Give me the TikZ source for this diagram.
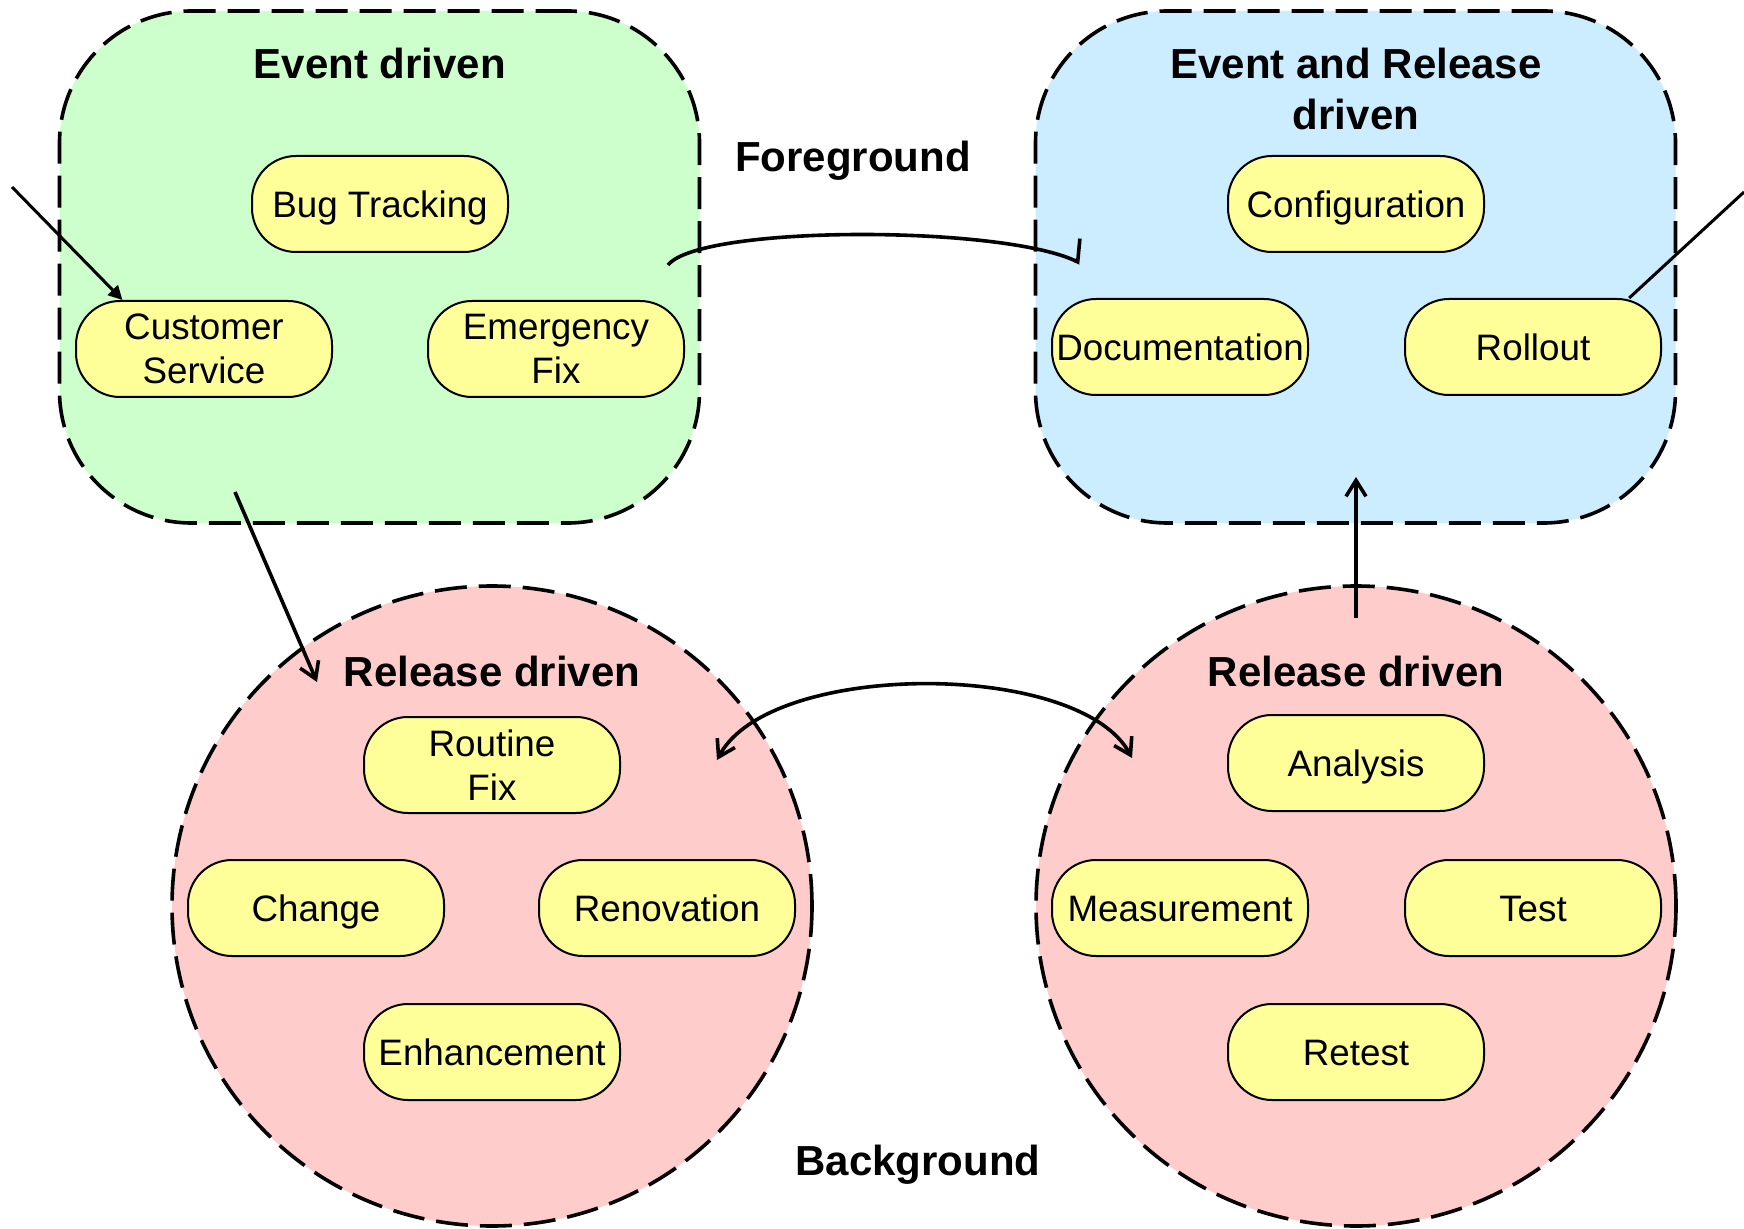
\documentclass[tikz,border=0pt]{standalone}
\usepackage{fontspec}
\setmainfont{Liberation Sans}
\usetikzlibrary{arrows.meta,positioning}

\definecolor{evgreen}{RGB}{204,255,204}
\definecolor{evblue}{RGB}{204,236,255}
\definecolor{relred}{RGB}{255,204,204}
\definecolor{itemyellow}{RGB}{255,255,153}

\tikzstyle{group} = [draw, line width=1.8pt, dash pattern=on 16pt off 6pt, inner sep=0pt]
\tikzstyle{area} = [group, rounded corners=66pt, minimum width=320pt, minimum height=256pt]
\tikzstyle{ring} = [group, circle, minimum size=320pt, fill=relred]
\tikzstyle{task} = [draw, line width=1pt, fill=itemyellow, rounded corners=22pt, minimum width=128pt, minimum height=48pt, inner sep=0pt, font=\fontsize{18.4}{22}\selectfont]
\tikzstyle{item} = [task, align=center]
\tikzstyle{item1} = [task, text height=13.6pt, text depth=0.4pt]
\tikzstyle{title} = [align=center, font=\fontsize{21}{25.6}\selectfont\bfseries]
\tikzstyle{arrow} = [line width=1.8pt, -{Straight Barb[length=8pt,width=10pt]}]
\tikzstyle{feed} = [line width=1.5pt, -{Triangle[length=7pt,width=7pt]}]

\begin{document}
\begin{tikzpicture}[x=0.5pt,y=-0.5pt]
\useasboundingbox (0,0) rectangle (1744,1229);
% groups
\node[area, fill=evgreen] (evt) at (379.5,267) {};
\node[area, fill=evblue] (evrel) at (1355.5,267) {};
\node[ring] (relL) at (492,906) {};
\node[ring] (relR) at (1356,906) {};

% titles
\node[title] (tEvt) at (380,63) {Event driven};
\node[title] (tEvRel) at (1356,89) {Event and Release\\driven};
\node[title] (tRelL) at (492,671) {Release driven};
\node[title] (tRelR) at (1356,671) {Release driven};
\node[title] (fg) at (853,161) {Foreground};
\node[title] (bg) at (918,1165) {Background};

% tasks
\node[item1] (bug) at (380,204) {Bug Tracking};
\node[item] (cust) at (204,349) {Customer\\Service};
\node[item] (emerg) at (556,349) {Emergency\\Fix};
\node[item1] (conf) at (1356,204) {Configuration};
\node[item1] (doc) at (1180,347) {Documentation};
\node[item1] (roll) at (1533,347) {Rollout};
\node[item] (routine) at (492,765) {Routine\\Fix};
\node[item1] (change) at (316,908) {Change};
\node[item1] (renov) at (667,908) {Renovation};
\node[item1] (enh) at (492,1052) {Enhancement};
\node[item1] (anal) at (1356,763) {Analysis};
\node[item1] (meas) at (1180,908) {Measurement};
\node[item1] (test) at (1533,908) {Test};
\node[item1] (retest) at (1356,1052) {Retest};

% connectors
\coordinate (inL) at (12,187);
\coordinate (outR) at (1744,192);
\coordinate (fgA) at (668,265);
\coordinate (fgB) at (1080,263);
\coordinate (bgA) at (717,760);
\coordinate (bgB) at (1132,758);
\coordinate (downA) at (235,492);
\coordinate (downB) at (317,682);
\coordinate (upA) at (1356,618);
\coordinate (upB) at (1356,477);

\draw[feed] (inL) -- (cust.149);
\draw[line width=1.5pt] (roll.27) -- (outR);
\draw[arrow, -{Straight Barb[harpoon,length=4pt,width=22pt]}] (fgA) .. controls (700,225) and (1000,225) .. (fgB);
\draw[arrow, {Straight Barb[length=8pt,width=10pt]}-{Straight Barb[length=8pt,width=10pt]}] (bgA) .. controls (770,660) and (1080,660) .. (bgB);
\draw[arrow] (downA) -- (downB);
\draw[arrow] (upA) -- (upB);
\end{tikzpicture}
\end{document}
